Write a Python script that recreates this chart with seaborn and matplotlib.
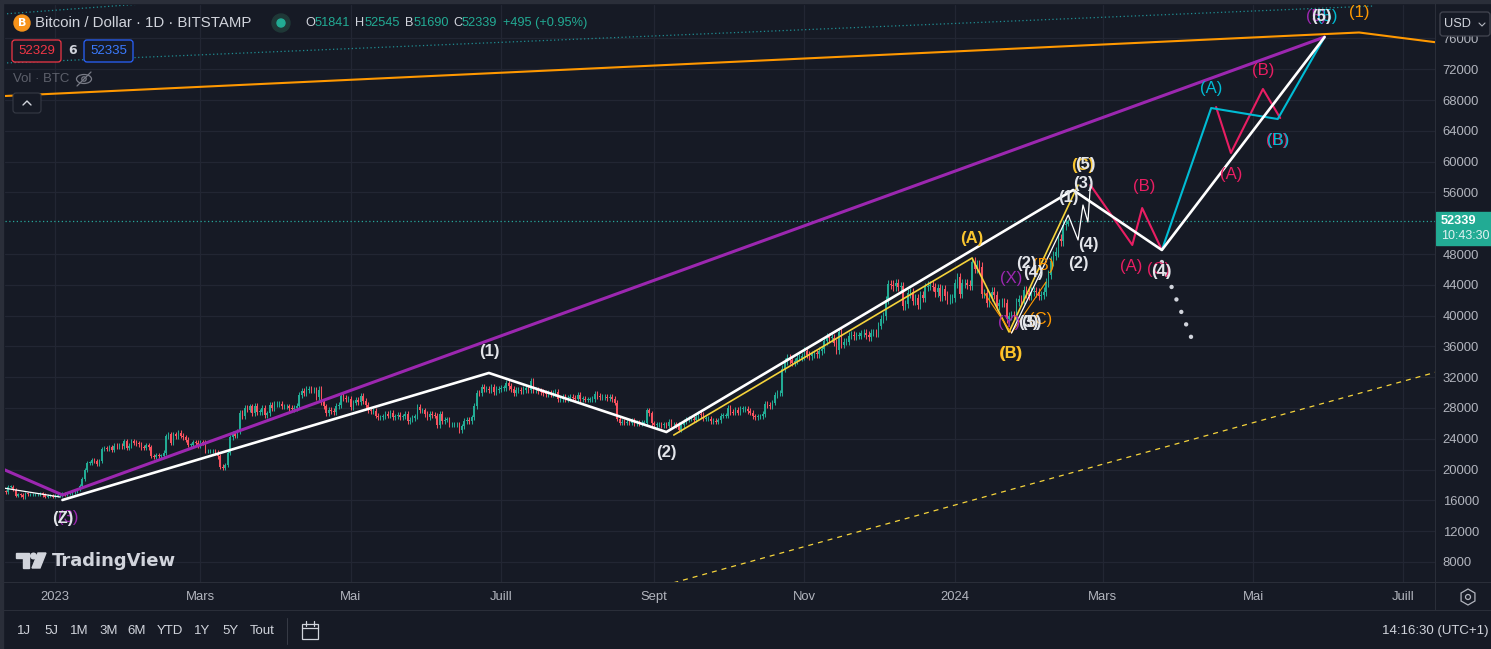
import numpy as np
import pandas as pd
import matplotlib
matplotlib.use("Agg")
import matplotlib.pyplot as plt
import matplotlib.dates as mdates
import matplotlib.transforms as mtransforms
from matplotlib.transforms import IdentityTransform
from matplotlib.patches import Circle, Ellipse, FancyBboxPatch, Polygon, Rectangle, RegularPolygon
from matplotlib.lines import Line2D
import seaborn as sns

# Daily closes (thousands USD), BTC / Dollar, Bitstamp 1D
closes_k = {
    "2022-12-12": [17.1, 17.8, 17.8, 17.4, 16.6, 16.8, 16.7, 16.4, 16.9, 16.8, 16.8, 16.8, 16.8, 16.8, 16.9,
                   16.7, 16.5, 16.6, 16.6, 16.5],
    "2023-01-01": [16.6, 16.7, 16.7, 16.9, 16.8, 16.9, 16.9, 17.1, 17.2, 17.4, 17.9, 18.8, 19.9, 20.9, 20.9,
                   21.2, 21.1, 20.7, 21.1, 22.7, 22.8, 22.7, 22.9, 22.6, 23.1, 23.0, 23.1, 23.0, 23.7, 22.8, 23.1],
    "2023-02-01": [23.7, 23.5, 23.4, 23.3, 22.9, 22.8, 23.2, 22.9, 21.8, 21.6, 21.9, 21.8, 21.8, 22.2, 24.3,
                   24.6, 23.5, 24.6, 24.3, 24.8, 24.4, 24.2, 23.9, 23.2, 23.2, 23.6, 23.5, 23.1],
    "2023-03-01": [23.6, 23.5, 22.4, 22.4, 22.4, 22.4, 22.2, 21.7, 20.4, 20.2, 20.6, 22.2, 24.2, 24.7, 24.4,
                   25.0, 27.4, 26.9, 28.0, 27.8, 28.2, 27.3, 28.3, 27.5, 27.5, 28.0, 27.1, 27.3, 28.4, 28.0, 28.5],
    "2023-04-01": [28.5, 28.5, 28.2, 28.2, 28.2, 28.0, 27.9, 28.0, 28.3, 29.7, 30.2, 29.9, 30.4, 30.5, 30.3,
                   30.3, 29.4, 30.4, 28.8, 28.2, 27.3, 27.8, 27.6, 27.5, 28.3, 28.4, 29.5, 29.3, 29.2, 29.2],
    "2023-05-01": [28.1, 28.7, 29.0, 28.8, 29.5, 28.9, 28.4, 27.7, 27.6, 27.6, 27.0, 26.8, 26.8, 26.9, 27.2,
                   27.0, 27.4, 26.8, 26.9, 27.1, 26.8, 26.9, 27.2, 26.3, 26.5, 26.7, 26.9, 28.1, 27.7, 27.7, 27.2],
    "2023-06-01": [26.8, 27.2, 27.1, 27.0, 25.8, 27.2, 26.3, 26.5, 26.5, 25.9, 25.9, 25.9, 25.9, 25.1, 25.6,
                   26.3, 26.5, 26.3, 26.8, 28.3, 30.0, 29.9, 30.7, 30.5, 30.5, 30.3, 30.7, 30.1, 30.4, 30.5],
    "2023-07-01": [30.6, 30.6, 31.2, 30.8, 30.5, 29.9, 30.3, 30.3, 30.2, 30.4, 30.6, 30.4, 31.5, 30.3, 30.3,
                   30.2, 30.1, 29.9, 29.8, 29.9, 29.8, 29.9, 30.1, 29.2, 29.2, 29.4, 29.2, 29.3, 29.4, 29.3, 29.2],
    "2023-08-01": [29.7, 29.2, 29.2, 29.1, 29.1, 29.1, 29.2, 29.8, 29.6, 29.4, 29.4, 29.4, 29.3, 29.4, 29.2,
                   28.7, 26.6, 26.1, 26.2, 26.1, 26.2, 26.1, 26.4, 26.0, 26.1, 26.0, 26.1, 26.1, 27.7, 27.3, 26.0],
    "2023-09-01": [25.8, 25.9, 25.9, 25.8, 25.8, 25.7, 26.2, 25.9, 25.9, 25.8, 25.2, 25.8, 26.2, 26.5, 26.6,
                   26.6, 26.5, 26.8, 27.2, 27.1, 26.6, 26.6, 26.6, 26.3, 26.3, 26.2, 26.4, 27.0, 27.0, 27.0],
    "2023-10-01": [28.0, 27.5, 27.4, 27.8, 27.4, 27.9, 27.9, 27.9, 27.6, 27.4, 26.9, 26.8, 26.9, 26.9, 27.2,
                   28.5, 28.4, 28.3, 28.7, 29.7, 29.9, 30.0, 33.1, 34.0, 34.5, 34.2, 33.9, 34.1, 34.5, 34.5, 34.7],
    "2023-11-01": [35.4, 34.9, 34.7, 35.0, 35.1, 35.0, 35.4, 35.6, 36.7, 37.3, 37.1, 37.1, 36.5, 35.5, 37.9,
                   36.2, 36.6, 36.6, 37.4, 37.5, 37.3, 37.4, 37.4, 37.7, 37.8, 37.5, 37.2, 37.8, 37.8, 37.7],
    "2023-12-01": [38.7, 39.5, 39.9, 42.0, 44.1, 44.0, 43.8, 44.2, 43.7, 43.8, 41.2, 41.5, 42.9, 43.0, 41.9,
                   42.3, 41.4, 42.7, 42.3, 43.7, 43.9, 43.9, 43.7, 43.0, 43.6, 42.5, 43.4, 42.6, 42.1, 42.2, 42.3],
    "2024-01-01": [44.2, 45.0, 42.8, 44.2, 44.2, 44.0, 43.9, 47.0, 46.1, 46.6, 46.3, 42.8, 42.9, 41.7, 42.5,
                   43.1, 42.7, 41.3, 41.6, 41.7, 41.6, 39.6, 39.9, 40.1, 39.9, 41.8, 42.1, 42.0, 43.3, 42.9, 42.6],
    "2024-02-01": [43.1, 43.2, 43.0, 42.6, 42.7, 43.1, 44.3, 45.3, 47.1, 47.8, 48.3, 50.0, 49.7, 51.8,
                   51.841, 52.339],
}
last_open, last_high, last_low, last_close = 51841, 52545, 51690, 52339

price_ticks = [8000, 12000, 16000, 20000, 24000, 28000, 32000, 36000, 40000, 44000, 48000,
               56000, 60000, 64000, 68000, 72000, 76000]
month_ticks = ["2023-01-01", "2023-03-01", "2023-05-01", "2023-07-01", "2023-09-01", "2023-11-01",
               "2024-01-01", "2024-03-01", "2024-05-01", "2024-07-01"]
month_labels = ["2023", "Mars", "Mai", "Juill", "Sept", "Nov", "2024", "Mars", "Mai", "Juill"]

# wave drawings: pivots, labels, label offsets (px)
orange_dates = ["2022-12-01", "2024-06-13", "2024-07-31"]
orange_prices = [68360, 76770, 74810]
orange_labels = ["", "(1)", ""]
orange_dx, orange_dy = [0, 0, 0], [0, 20, 0]

purple_dates = ["2022-12-08", "2023-01-04", "2024-05-30"]
purple_prices = [20460, 16700, 76180]
purple_labels = ["", "(3)", "(5)"]
purple_dx, purple_dy = [0, 6, -8], [0, -23, 21]

white_dates = ["2023-01-04", "2023-06-26", "2023-09-06", "2024-02-18", "2024-03-25", "2024-05-30"]
white_prices = [16050, 32550, 24880, 56310, 48520, 76180]
white_labels = ["(Z)", "(1)", "(2)", "(3)", "(4)", "(5)"]
white_dx, white_dy = [0, 0, 0, 10, 0, -3], [-18, 21, -20, 7, -22, 21]

lead_dates = ["2022-12-11", "2023-01-03"]
lead_prices = [17610, 16440]

drop_dates = ["2024-03-25", "2024-04-06"]
drop_prices = [46960, 37090]

yellow_dates = ["2023-09-09", "2024-01-08", "2024-01-23", "2024-02-20"]
yellow_prices = [24490, 47480, 37870, 56960]
yellow_labels = ["", "(A)", "(B)", "(C)"]
yellow_dx, yellow_dy = [0, 0, 2, 5], [0, 20, -22, 20]

ydash_dates = ["2023-09-01", "2024-07-31"]
ydash_prices = [4600, 34140]

minor_or_dates = ["2024-01-13", "2024-01-24", "2024-02-07"]
minor_or_prices = [42930, 37740, 44360]
minor_or_labels = ["", "(B)", "(B)"]
minor_or_dx, minor_or_dy = [0, -1, -3], [0, -21, 17]

minor_wh_dates = ["2024-01-24", "2024-02-16", "2024-02-20", "2024-02-22", "2024-02-24", "2024-02-25"]
minor_wh_prices = [37740, 53060, 49820, 54360, 52160, 56960]

pink1_dates = ["2024-02-25", "2024-03-13", "2024-03-17", "2024-03-25"]
pink1_prices = [56960, 49170, 53970, 48520]
pink1_labels = ["", "(A)", "(B)", "(C)"]
pink1_dx, pink1_dy = [0, -1, 2, -3], [0, -22, 22, -20]

pink2_dates = ["2024-04-16", "2024-04-22", "2024-05-05", "2024-05-12"]
pink2_prices = [67090, 61120, 69430, 65660]
pink2_labels = ["", "(A)", "(B)", "(B)"]
pink2_dx, pink2_dy = [0, 0, 0, -3], [0, -22, 19, -22]

cyan_dates = ["2024-03-25", "2024-04-14", "2024-05-11", "2024-05-30"]
cyan_prices = [48520, 66960, 65530, 76180]
cyan_labels = ["", "(A)", "(B)", "(5)"]
cyan_dx, cyan_dy = [0, 0, 0, 3], [0, 20, -21, 21]

teal_a_dates, teal_a_prices = ["2022-12-11", "2023-03-01"], [79170, 81030]
teal_b_dates, teal_b_prices = ["2022-12-11", "2024-06-19"], [72800, 80210]

loose_dates = ["2024-02-05", "2024-01-24", "2024-01-23", "2024-01-30", "2024-02-02", "2024-01-31",
               "2024-02-01", "2024-02-16", "2024-02-20", "2024-02-24", "2024-02-23"]
loose_prices = [39430, 44880, 39040, 46830, 45660, 39040, 39040, 55400, 46830, 49170, 59560]
loose_text = ["(C)", "(X)", "(Y)", "(2)", "(4)", "(3)", "(5)", "(1)", "(2)", "(4)", "(5)"]
loose_kind = ["orange", "purple", "purple", "wlabel", "wlabel", "wlabel", "wlabel", "wlabel", "wlabel",
              "wlabel", "wlabel"]

# ---------------- style ----------------
W, H = 1491, 649
BG = "#161a25"
GRID = "#222633"
PANEL = "#2a2e39"
TXT = "#b2b5be"
UP, DOWN = "#22ab94", "#f7525f"
COL = {"white": "#ffffff", "wlabel": "#e3e5ea", "purple": "#9c27b0", "orange": "#ff9800",
       "yellow": "#f5d33b", "ylabel": "#f9c52f", "cyan": "#00bcd4", "pink": "#e91e63", "teal": "#1f8e93"}
BOLD_TAGS = ("#e3e5ea", "#f9c52f")
SANS = "Liberation Sans"
WICK = 0.013

sns.set_style("dark", {"axes.facecolor": BG, "figure.facecolor": BG, "grid.color": GRID})
plt.rcParams["font.family"] = ["DejaVu Sans"]

fig = plt.figure(figsize=(W / 100, H / 100), dpi=100, facecolor=BG)
ax = fig.add_axes([5 / W, (H - 582) / H, 1430 / W, 577 / H])
ax.set_facecolor(BG)

# ---------------- candles ----------------
dates, closes = [], []
for start, vals in closes_k.items():
    dates += list(pd.date_range(start, periods=len(vals), freq="D"))
    closes += vals
xs = mdates.date2num(pd.DatetimeIndex(dates))
closes = np.array(closes) * 1000
opens = np.r_[closes[0] * 1.004, closes[:-1]]
highs = np.maximum(opens, closes) * (1 + WICK)
lows = np.minimum(opens, closes) * (1 - WICK)
highs[-1], lows[-1] = last_high, last_low
cols = np.where(closes >= opens, UP, DOWN)
ax.vlines(xs, lows, highs, colors=cols, lw=0.75, zorder=2)
ax.bar(xs, np.maximum(np.abs(closes - opens), 70), bottom=np.minimum(opens, closes),
       width=0.62, color=cols, lw=0, zorder=2)


def wave(d, p, color, lw, z=3, **kw):
    df = pd.DataFrame({"x": mdates.date2num(pd.to_datetime(d)), "y": p})
    sns.lineplot(data=df, x="x", y="y", ax=ax, sort=False, estimator=None, color=color,
                 lw=lw, legend=False, zorder=z, **kw)


def tag(d, p, text, color, dx=0, dy=0):
    ax.annotate(text, (mdates.date2num(pd.Timestamp(d)), p), xytext=(dx * 0.72, dy * 0.72),
                textcoords="offset points", ha="center", va="center", color=color,
                fontsize=12, fontweight="bold" if color in BOLD_TAGS else "normal",
                fontfamily=SANS, zorder=6, annotation_clip=False)


def tags(d, p, labels, dx, dy, color):
    for i in range(len(d)):
        if labels[i]:
            tag(d[i], p[i], labels[i], color, dx[i], dy[i])


wave(teal_a_dates, teal_a_prices, COL["teal"], 0.9, z=1.5, linestyle=(0, (1, 2)))
wave(teal_b_dates, teal_b_prices, COL["teal"], 0.9, z=1.5, linestyle=(0, (1, 2)))
wave(orange_dates, orange_prices, COL["orange"], 1.5, z=1.6)
wave(ydash_dates, ydash_prices, COL["yellow"], 0.9, z=1.6, linestyle=(0, (4, 4)))
ax.axhline(last_close, color="#26a69a", lw=0.9, ls=(0, (1, 2)), zorder=1.7)

wave(yellow_dates, yellow_prices, COL["yellow"], 1.2)
wave(minor_or_dates, minor_or_prices, COL["orange"], 0.8)
wave(minor_wh_dates, minor_wh_prices, COL["white"], 0.9)
wave(purple_dates, purple_prices, COL["purple"], 2.2)
wave(lead_dates, lead_prices, COL["white"], 0.9)
wave(white_dates, white_prices, COL["white"], 1.9, z=3.2)
wave(drop_dates, drop_prices, "#d1d4dc", 3.2, z=3.2, linestyle=(0, (0.01, 3.0)), dash_capstyle="round")
wave(pink1_dates, pink1_prices, COL["pink"], 1.5)
wave(cyan_dates, cyan_prices, COL["cyan"], 1.5, z=3.1)
wave(pink2_dates, pink2_prices, COL["pink"], 1.5)

tags(orange_dates, orange_prices, orange_labels, orange_dx, orange_dy, COL["orange"])
tags(purple_dates, purple_prices, purple_labels, purple_dx, purple_dy, COL["purple"])
tags(minor_or_dates, minor_or_prices, minor_or_labels, minor_or_dx, minor_or_dy, COL["orange"])
tags(yellow_dates, yellow_prices, yellow_labels, yellow_dx, yellow_dy, COL["ylabel"])
for d, p, t, k in zip(loose_dates, loose_prices, loose_text, loose_kind):
    tag(d, p, t, COL[k])
tags(pink1_dates, pink1_prices, pink1_labels, pink1_dx, pink1_dy, COL["pink"])
tags(pink2_dates, pink2_prices, pink2_labels, pink2_dx, pink2_dy, COL["pink"])
tags(cyan_dates, cyan_prices, cyan_labels, cyan_dx, cyan_dy, COL["cyan"])
tags(white_dates, white_prices, white_labels, white_dx, white_dy, COL["wlabel"])

# ---------------- axes ----------------
Y_LO, Y_HI = 5400, 80340
x0 = mdates.date2num(pd.Timestamp("2023-01-01"))
ax.set_xlim(x0 - 20.3, x0 + 559.8)
ax.set_ylim(Y_LO, Y_HI)
ax.set_xlabel("")
ax.set_ylabel("")
ax.yaxis.tick_right()
ax.set_yticks(price_ticks, [str(t) for t in price_ticks], fontfamily=SANS, fontsize=9.4, color=TXT)
ax.set_xticks(mdates.date2num(pd.to_datetime(month_ticks)), month_labels,
              fontfamily=SANS, fontsize=9.4, color=TXT)
ax.tick_params(axis="both", length=0)
ax.tick_params(axis="y", pad=5.5)
ax.tick_params(axis="x", pad=6.5)
ax.grid(True, color=GRID, lw=0.9)
ax.set_axisbelow(True)
for s in ax.spines.values():
    s.set_visible(False)

# last price badge
ppu = 577 / (Y_HI - Y_LO)
trans = mtransforms.blended_transform_factory(ax.transAxes, ax.transData)
ax.add_patch(Rectangle((1 + 1 / 1430, last_close - 24 / ppu), 56 / 1430, 33 / ppu, transform=trans,
                       color="#22ab94", clip_on=False, zorder=7))
ax.text(1 + 6 / 1430, last_close, f"{last_close}", transform=trans, va="center", color="white",
        fontweight="bold", fontsize=9.2, fontfamily=SANS, clip_on=False, zorder=8)
ax.text(1 + 6 / 1430, last_close - 15 / ppu, "10:43:30", transform=trans, va="center", color="#e0f2f1",
        fontsize=9, fontfamily=SANS, clip_on=False, zorder=8)

# ---------------- chrome (pixel coordinates) ----------------
I = IdentityTransform()


def ftext(x, y, s, **kw):
    fig.text(x, H - y, s, transform=I, va="center", **kw)


def fline(xs_, ys_, color=PANEL, lw=0.75):
    fig.add_artist(Line2D(xs_, [H - v for v in ys_], transform=I, color=color, lw=lw))


fig.patches.append(Rectangle((0, 0), 3, H, transform=I, color=PANEL))
fig.patches.append(Rectangle((0, H - 3), W, 3, transform=I, color=PANEL))
fline([0, W], [582, 582])
fline([0, W], [610, 610])
fline([1435, 1435], [3, 610])
fline([287, 287], [618, 644], color="#363a45")

# header
fig.patches.append(Circle((22, H - 23), 8, transform=I, color="#f7931a"))
ftext(22, 23.5, "B", color="white", fontsize=8, fontweight="bold", ha="center")
ftext(35, 23, "Bitcoin / Dollar · 1D · BITSTAMP", color="#d1d4dc", fontsize=10.8, fontfamily=SANS)
fig.patches.append(Circle((281, H - 23), 9, transform=I, color="#1f3837"))
fig.patches.append(Circle((281, H - 23), 4, transform=I, color="#22ab94"))
for x, s, c in [(305, "O", "#d1d4dc"), (315, "51841", UP), (355, "H", "#d1d4dc"), (365, "52545", UP),
                (405, "B", "#d1d4dc"), (414, "51690", UP), (453, "C", "#d1d4dc"), (462, "52339", UP),
                (503, "+495 (+0.95%)", UP)]:
    ftext(x, 23, s, color=c, fontsize=9.2, fontfamily=SANS)
fig.patches.append(FancyBboxPatch((12, H - 62), 49, 22, boxstyle="round,pad=0,rounding_size=3",
                                  transform=I, fc=BG, ec="#f23645", lw=0.9))
ftext(36.5, 51, "52329", color="#f23645", fontsize=9.5, fontfamily=SANS, ha="center")
ftext(73, 51, "6", color="#d1d4dc", fontsize=9, fontweight="bold", ha="center")
fig.patches.append(FancyBboxPatch((84, H - 62), 49, 22, boxstyle="round,pad=0,rounding_size=3",
                                  transform=I, fc=BG, ec="#2962ff", lw=0.9))
ftext(108.5, 51, "52335", color="#3b7bff", fontsize=9.5, fontfamily=SANS, ha="center")
ftext(13, 79, "Vol · BTC", color="#5d606b", fontsize=9.5, fontfamily=SANS)
fig.patches.append(Ellipse((84, H - 79), 15, 9, transform=I, fill=False, ec="#787b86", lw=0.9))
fig.patches.append(Circle((84, H - 79), 2.2, transform=I, fill=False, ec="#787b86", lw=0.9))
fline([77, 91], [86, 72], color="#787b86", lw=0.9)
fig.patches.append(FancyBboxPatch((13, H - 113), 28, 20, boxstyle="round,pad=0,rounding_size=3",
                                  transform=I, fc=BG, ec="#363a45", lw=0.8))
fline([23, 27, 31], [105, 101, 105], color="#d1d4dc", lw=1)

# currency box
fig.patches.append(FancyBboxPatch((1440, H - 36), 50, 24, boxstyle="round,pad=0,rounding_size=3",
                                  transform=I, fc=BG, ec="#434651", lw=0.9))
ftext(1444, 24, "USD", color="#d1d4dc", fontsize=9.2, fontfamily=SANS)
fline([1479, 1482, 1485], [23, 26, 23], color="#b2b5be", lw=0.8)

# logo
fig.patches.append(Polygon([(16, H - 553), (29, H - 553), (29, H - 568), (23, H - 568),
                            (23, H - 558), (16, H - 558)], transform=I, color="#d1d4dc"))
fig.patches.append(Circle((33.5, H - 556), 2.8, transform=I, color="#d1d4dc"))
fig.patches.append(Polygon([(38, H - 553), (46, H - 553), (40, H - 568), (32, H - 568)],
                           transform=I, color="#d1d4dc"))
ftext(52, 561, "TradingView", color="#d1d4dc", fontsize=13, fontweight="bold")

# settings icon
fig.patches.append(RegularPolygon((1468, H - 597), 6, radius=8, transform=I, fill=False, ec=TXT, lw=0.9))
fig.patches.append(Circle((1468, H - 597), 2.5, transform=I, fill=False, ec=TXT, lw=0.9))

# toolbar
for x, s in [(24, "1J"), (51, "5J"), (79, "1M"), (109, "3M"), (137, "6M"), (170, "YTD"),
             (202, "1Y"), (230, "5Y"), (262, "Tout")]:
    ftext(x, 631, s, color="#d1d4dc", fontsize=9.5, fontfamily=SANS, ha="center")
fig.patches.append(Rectangle((302, H - 639), 16, 15, transform=I, fill=False, ec="#d1d4dc", lw=0.9))
fline([302, 318], [628, 628], color="#d1d4dc", lw=0.9)
fline([306, 306], [621, 626], color="#d1d4dc", lw=0.9)
fline([314, 314], [621, 626], color="#d1d4dc", lw=0.9)
ftext(1488, 631, "14:16:30 (UTC+1)", color="#d1d4dc", fontsize=9.5, fontfamily=SANS, ha="right")

fig.savefig("out.png", dpi=100, facecolor=BG)
